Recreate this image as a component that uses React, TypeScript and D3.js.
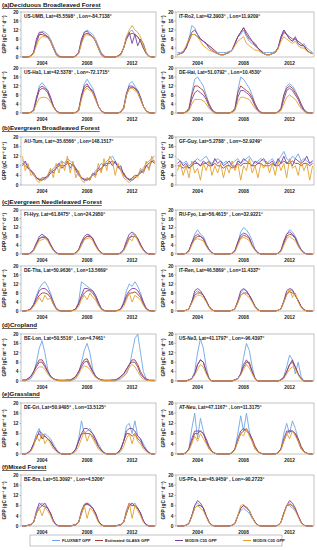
import React from 'react';
import * as d3 from 'd3';

const years = ['2004', '2008', '2012'];
const yTicks = [0, 4, 8, 12, 16, 20];
const seriesNames = ['FLUXNET GPP', 'Estimated GLASS GPP', 'MODIS C55 GPP', 'MODIS C05 GPP'];
const sectionTitles = [
  '(a)Deciduous Broadleaved Forest',
  '(b)Evergreen Broadleaved Forest',
  '(c)Evergreen Needleleaved Forest',
  '(d)Cropland',
  '(e)Grassland',
  '(f)Mixed Forest',
];
// left / right panel of each row
const siteIds = ['US-UMB', 'IT-Ro2', 'US-Ha1', 'DE-Hai', 'AU-Tum', 'GF-Guy', 'FI-Hyy', 'RU-Fyo',
  'DE-Tha', 'IT-Ren', 'BE-Lon', 'US-Ne3', 'DE-Gri', 'AT-Neu', 'BE-Bra', 'US-PFa'];
const siteLat = ['45.5598', '42.3903', '42.5378', '51.0792', '-35.6566', '5.2788', '61.8475', '56.4615',
  '50.9636', '46.5869', '50.5516', '41.1797', '50.9495', '47.1167', '51.3092', '45.9459'];
const siteLon = ['-84.7138', '11.9209', '-72.1715', '10.4530', '148.1517', '-52.9249', '24.2950', '32.9221',
  '13.5669', '11.4337', '4.7461', '-96.4397', '13.5125', '11.3175', '4.5206', '-90.2723'];

// GPP (gC m-2 d-1): FLUXNET, GLASS, MODIS C55, MODIS C05 — 16 samples a year for 2004, 2008, 2012
const usUmb = [
  [0,0,0,0.5,2,6,10,11.5,11,10,8,5,2,0.5,0,0, 0,0,0,0.5,1.5,6,11,12,11,10,8,5,2,0.5,0,0, 0,0,0.5,1.5,4,8,11,12,10,9,7,4,1.5,0.5,0,0],
  [0,0,0,0.5,2,7,10,10,9.5,9,7,4,1.5,0.3,0,0, 0,0,0,0.5,2,7,10,10.5,10,9,7,4,1.5,0.3,0,0, 0,0,0.5,1.5,4,8,10,10.5,10,9,7,4,1.5,0.3,0,0],
  [0,0,0,0.3,2,8,11,11,10,9,7,4,1,0,0,0, 0,0,0,0.3,2,8,11,11.5,10,9,7,4,1,0,0,0, 0,0,0.3,1,4,9,11,6,10,5,8,6,2,0.3,0,0],
  [0,0,0,0.3,1.5,5,8,9,9,8.5,7,4,1,0,0,0, 0,0,0,0.3,1.5,6,9,10,9.5,9,7,4,1,0,0,0, 0,0,0.3,1,4,9,12,14,12,11,9,5,2,0.3,0,0],
];
const itRo2 = [
  [2,2,2.5,4,8,14,13,10,8,7,6,5,4,3,2,2, 2,2,2.5,3,6,9,10,12,9,7,6,5,4,3,2,2, 2,2,2.5,4,9,12,10,8,7,8,6,5,6,4,3,2],
  [1,1.5,2,4,7,10,10,9,8,7,6,5,4,2.5,1.5,1, 1,1.5,2,3,6,9,11,13,10,8,7,6,4,2.5,1.5,1, 1,1.5,2,4,8,11,10,9,8,8,7,6,5,3,2,1.5],
  [1,1.5,2,4,8,11,12,10,8,7,6,4,3,2,1.5,1, 1,1.5,2,3,6,9,11,13,11,9,7,5,4,2.5,1.5,1, 1,1.5,2,4,9,12,10,8,7,9,6,5,5,3,2,1.5],
  [1,1.5,2.5,5,8,10,10,9,7,5,4,3,2.5,2,1.5,1, 1,1.5,2,3,5,7,8,9,6,5,4,3,3,2,1.5,1, 1,1.5,2,3.5,7,9,8,7,6,7,5,4,4,2.5,2,1.5],
];
const usHa1 = [
  [0,0,0,0.3,1,6,12,13.5,12,10,7,3,1,0.3,0,0, 0,0,0,0.3,1,7,13,15,13,11,7,3,1,0.3,0,0, 0,0,0,0.5,2,8,13,14,12,10,7,3,1,0.3,0,0],
  [0,0,0,0.3,1,6,10,11,10.5,9,6,3,1,0.2,0,0, 0,0,0,0.3,1,7,11,12,11,9,6,3,1,0.2,0,0, 0,0,0,0.5,2,8,11,11.5,11,9,6,3,1,0.2,0,0],
  [0,0,0,0.3,1.5,7,11,12,11,10,7,3,1,0,0,0, 0,0,0,0.3,1.5,8,12,13,11,10,7,3,1,0,0,0, 0,0,0,0.5,2.5,9,12,12,11,10,7,3,1,0,0,0],
  [0,0,0,0.3,1,4,6.5,7,7,6.5,5,2.5,0.8,0,0,0, 0,0,0,0.3,1,6,10,11,10,9,6,3,1,0,0,0, 0,0,0,0.5,2,8,11,11,10,9,6,3,1,0,0,0],
];
const deHai = [
  [0,0,0,0.5,2,9,15,16,14,12,8,4,1.5,0.5,0,0, 0,0,0,0.5,2,10,16,15,13,11,8,4,1.5,0.5,0,0, 0,0,0,0.5,2,8,12,13,12,10,7,4,1.5,0.5,0,0],
  [0,0,0,0.5,2,8,12,12,11,10,7,4,1.5,0.3,0,0, 0,0,0,0.5,2,9,12,11,10,9,7,4,1.5,0.3,0,0, 0,0,0,0.5,2,8,11,12,11,9,7,4,1.5,0.3,0,0],
  [0,0,0,0.3,1.5,6,9,10,9,8,6,3,1,0,0,0, 0,0,0,0.3,1.5,7,10,10,9,8,6,3,1,0,0,0, 0,0,0,0.3,1.5,6,10,11,10,8,6,3,1,0,0,0],
  [0,0,0,0.3,1,4,6,6,6,5.5,4,2,0.8,0,0,0, 0,0,0,0.3,1,5,7,7,6.5,6,4,2,0.8,0,0,0, 0,0,0,0.3,1,4,7,8,7,6,4,2,0.8,0,0,0],
];
const auTum = [
  [10,9,8,6,5,3,2,2,2.5,3,5,7,8,9,10,9, 11,10,9,7,5,3,2,2,3,4,6,7,9,8,10,11, 12,10,8,7,5,3,2,2,3,4,5,7,9,10,11,12],
  [9,8,7,6,4,3,2.5,2,3,3.5,5,6,7,8,8,8, 9,9,8,7,5,3,2.5,2,3,4,5,6,7,8,9,9, 10,9,8,6,5,3,2.5,2,3,4,5,6,8,9,10,10],
  [8,10,7,6,5,3,2,3,3,4,6,5,7,9,7,8, 10,7,9,6,4,3,2,3,2,5,4,7,6,9,8,10, 8,10,7,8,4,3,2,3,4,4,6,5,8,7,10,9],
  [12,6,9,4,5,2,1,3,2,4,7,3,9,5,10,6, 12,5,10,3,6,2,1,3,2,5,3,9,5,11,6,12, 10,4,9,6,3,2,1,2,4,3,7,5,10,6,12,9],
];
const gfGuy = [
  [11,10,9,10,8,9,10,11,10,11,12,10,9,10,11,10, 9,10,8,9,10,11,9,10,11,12,10,9,10,11,10,9, 10,11,9,10,12,14,11,10,12,11,13,10,11,10,9,10],
  [8,8,7,8,7,8,9,9,8,9,9,8,8,9,8,8, 7,8,8,7,8,9,8,9,9,9,8,8,9,9,8,8, 8,9,8,8,9,10,9,9,10,9,9,8,9,9,8,9],
  [9,10,8,9,7,8,10,9,8,10,9,10,8,11,9,10, 8,9,10,8,7,10,9,11,10,9,8,10,9,10,11,9, 9,10,8,11,9,12,9,10,8,11,10,9,10,12,9,10],
  [6,9,4,8,3,10,5,7,2,9,6,10,4,8,5,9, 3,8,5,10,6,9,2,8,6,11,5,8,3,9,7,10, 5,9,4,10,6,9,3,11,7,8,4,10,6,9,2,8],
];
const fiHyy = [
  [0,0,0,0.3,1.5,4,7,8,8,7,4,2,0.5,0,0,0, 0,0,0,0.3,1.5,4,7,8,8.5,7,4,2,0.5,0,0,0, 0,0,0,0.3,1.5,4,7,9,9,7,4,2,0.5,0,0,0],
  [0,0,0,0.5,2,5,7,7.5,7.5,6.5,4,2,0.5,0,0,0, 0,0,0,0.5,2,5,7,8,8,7,4,2,0.5,0,0,0, 0,0,0,0.5,2,5,7.5,8,8,7,4,2,0.5,0,0,0],
  [0,0,0,0.5,2,5,8,9,8,7,4.5,2,0.5,0,0,0, 0,0,0,0.5,2,5.5,8,9,8.5,7,4.5,2,0.5,0,0,0, 0,0,0,0.5,2,6,9,10,9,7,4.5,2,0.5,0,0,0],
  [0,0,0,0.3,1.5,4,6,6.5,7,6,3.5,1.5,0.3,0,0,0, 0,0,0,0.3,1.5,4,6.5,7,7.5,6,3.5,1.5,0.3,0,0,0, 0,0,0,0.3,1.5,4,7,6,9,6,3.5,1.5,0.3,0,0,0],
];
const ruFyo = [
  [0,0,0,0.3,1.5,5,9,11,9,8,5,2,0.5,0,0,0, 0,0,0,0.3,1.5,5,10,12,11,9,6,2,0.5,0,0,0, 0,0,0,0.3,1.5,5,9,11,10,8,5,2,0.5,0,0,0],
  [0,0,0,0.3,1.5,5,7,8,8,7,4,2,0.5,0,0,0, 0,0,0,0.3,1.5,5,7.5,8.5,8,7,4,2,0.5,0,0,0, 0,0,0,0.3,1.5,5,8,9,8.5,7,4,2,0.5,0,0,0],
  [0,0,0,0.3,1.5,5,8,9,8,7,4,2,0.5,0,0,0, 0,0,0,0.3,1.5,5.5,8.5,9.5,9,7.5,4,2,0.5,0,0,0, 0,0,0,0.3,1.5,6,9,10,9,7.5,4,2,0.5,0,0,0],
  [0,0,0,0.3,1,4,6.5,7,6.5,6,3.5,1.5,0.3,0,0,0, 0,0,0,0.3,1,4,7,7.5,7,6,3.5,1.5,0.3,0,0,0, 0,0,0,0.3,1,4,7,8,7,6,3.5,1.5,0.3,0,0,0],
];
const deTha = [
  [0,0,0.3,1,3,7,10,12,13,11,8,4,1.5,0.3,0,0, 0,0,0.3,1,4,13,12,11,10,9,7,4,1.5,0.3,0,0, 0,0,0.3,1,4,9,12,11,13,11,8,4,1.5,0.3,0,0],
  [0,0,0.3,1,2.5,5,7,8,8,7.5,6,3,1,0.2,0,0, 0,0,0.3,1,3,6,8,9,9,8,6,3,1,0.2,0,0, 0,0,0.3,1,3,6,8,8,8.5,7.5,6,3,1,0.2,0,0],
  [0,0,0.3,1,3,6,9,10,10,9,7,4,1,0.2,0,0, 0,0,0.3,1,3.5,7,10,10,9.5,9,7,4,1,0.2,0,0, 0,0,0.3,1,3.5,7,9,10,10,9,7,4,1,0.2,0,0],
  [0,0,0.2,0.5,2,4,6,4,7,5,6,3,0.8,0,0,0, 0,0,0.2,0.5,2,5,7,5,8,6,5,2.5,0.8,0,0,0, 0,0,0.2,0.5,2,5,8,4,7,6,5,2.5,0.8,0,0,0],
];
const itRen = [
  [0,0,0,0.3,1,4,8,9,8,7,5,2,0.5,0,0,0, 0,0,0,0.3,1,4,8,9.5,9,7,5,2,0.5,0,0,0, 0,0,0,0.3,1,4,8,9,9,7,5,2,0.5,0,0,0],
  [0,0,0,0.3,1,4,7,8,8,7,4.5,2,0.5,0,0,0, 0,0,0,0.3,1,4,7,8,8,7,4.5,2,0.5,0,0,0, 0,0,0,0.3,1,4,7.5,8.5,8,7,4.5,2,0.5,0,0,0],
  [0,0,0,0.3,1,4,9,10,9,7,4.5,2,0.5,0,0,0, 0,0,0,0.3,1,4.5,9,10,9,7,4.5,2,0.5,0,0,0, 0,0,0,0.3,1,4.5,9,10,9.5,7,4.5,2,0.5,0,0,0],
  [0,0,0,0.3,1,3.5,6,7,7,6,4,1.5,0.3,0,0,0, 0,0,0,0.3,1,3.5,7,8,7,6,4,1.5,0.3,0,0,0, 0,0,0,0.3,1,4,7,10,6,8,4,1.5,0.3,0,0,0],
];
const beLon = [
  [0,0,0.5,1,3,8,14,17,12,5,2,1,0.5,0,0,0, 0,0,0.5,1,3,8,13,16,12,5,2,1,0.5,0,0,0, 0,0,0.5,1,2,3,6,12,18,20,12,4,1,0.3,0,0],
  [0.5,0.5,1,2,4,7,9,9,7,4,2,1,0.5,0.3,0.3,0.3, 0.5,0.5,1,2,4,7,9,9.5,7,4,2,1,0.5,0.3,0.3,0.3, 0.5,0.5,1,2,3,5,7,9,9,7,4,2,1,0.3,0.3,0.3],
  [0.3,0.3,1,2,4,6,8,8,6,4,2,1,0.5,0.3,0.3,0.3, 0.3,0.3,1,2,4,6,8,8.5,6,4,2,1,0.5,0.3,0.3,0.3, 0.3,0.3,1,2,3,5,7,8,8,6,3,1.5,0.5,0.3,0.3,0.3],
  [0.3,0.3,0.5,1.5,3,5,6,6,5,3,1.5,0.8,0.3,0.2,0.2,0.2, 0.3,0.3,0.5,1.5,3,5,6.5,6,5,3,1.5,0.8,0.3,0.2,0.2,0.2, 0.3,0.3,0.5,1.5,2.5,4,6,7,6,4,2,0.8,0.3,0.2,0.2,0.2],
];
const usNe3 = [
  [0,0,0,0,0.5,1,4,12,18,14,6,1,0,0,0,0, 0,0,0,0,0.5,1,3,10,16,13,6,1,0,0,0,0, 0,0,0,0,0.5,2,6,11,9,3,8,2,0,0,0,0],
  [0,0,0,0,0.5,1,3,7,9,8,4,1,0,0,0,0, 0,0,0,0,0.5,1,3,6,8,8,4,1,0,0,0,0, 0,0,0,0,0.5,1.5,4,7,8,6,3,1,0,0,0,0],
  [0,0,0,0,0.5,1,3,7,9,8,4,1,0,0,0,0, 0,0,0,0,0.5,1,3,7,9,7,4,1,0,0,0,0, 0,0,0,0,0.5,1.5,4,7,9,6,3,1,0,0,0,0],
  [0,0,0,0,0.3,1,2.5,5,7,6,3,0.8,0,0,0,0, 0,0,0,0,0.3,1,2.5,5,7,5.5,3,0.8,0,0,0,0, 0,0,0,0,0.3,1,3,5,6,5,2.5,0.8,0,0,0,0],
];
const deGri = [
  [0,0,0.5,1.5,4,8,10,6,8,7,6,4,2,0.5,0,0, 0,0,0.5,2,6,13,8,9,10,8,6,4,2,0.5,0,0, 0,0,0.5,2,5,11,12,8,13,7,6,4,2,0.5,0,0],
  [0,0,0.5,1.5,4,7,8,6,7,6,5,3,1.5,0.5,0,0, 0,0,0.5,2,5,8,8,8,8,7,5,3,1.5,0.5,0,0, 0,0,0.5,2,5,8,8,7,8,6,5,3,1.5,0.5,0,0],
  [0,0,0.5,1.5,4,6,9,8,7,6,5,3,1.5,0.5,0,0, 0,0,0.5,2,5,8,10,10,9,8,6,3,1.5,0.5,0,0, 0,0,0.5,2,5,9,10,10,9,7,6,3,1.5,0.5,0,0],
  [0,0,0.3,1,3,7,5,8,4,6,4,2,1,0.3,0,0, 0,0,0.3,1,3,6,9,5,8,6,4,2,1,0.3,0,0, 0,0,0.3,1,3,6,8,4,8,5,4,2,1,0.3,0,0],
];
const atNeu = [
  [0,0,0,0.5,2,10,16,6,14,9,5,3,1,0.3,0,0, 0,0,0,0.5,2,8,15,9,16,9,5,3,1,0.3,0,0, 0,0,0,0.5,2,8,12,8,13,10,6,3,1,0.3,0,0],
  [0,0,0,0.5,2,5,8,8,9,8,6,3,1,0.3,0,0, 0,0,0,0.5,2,5,8,9,10,8,6,3,1,0.3,0,0, 0,0,0,0.5,2,5,8,9,9,8,6,3,1,0.3,0,0],
  [0,0,0,0.5,2,6,9,9,9,8,5,2,0.8,0.3,0,0, 0,0,0,0.5,2,6,9,10,9,8,5,2,0.8,0.3,0,0, 0,0,0,0.5,2,6,9,9,9,8,5,2,0.8,0.3,0,0],
  [0,0,0,0.5,1.5,4,7,5,8,6,4,2,0.8,0.3,0,0, 0,0,0,0.5,1.5,5,8,7,10,7,5,2,0.8,0.3,0,0, 0,0,0,0.5,1.5,5,8,6,9,7,5,2,0.8,0.3,0,0],
];
const beBra = [
  [0,0,0.3,0.5,1.5,5,8,9,8,7,5,2,0.5,0,0,0, 0,0,0.3,0.5,1.5,5,8,9,8.5,7,5,2,0.5,0,0,0, 0,0,0.3,0.5,1.5,5,8,8,9,7,5,2,0.5,0,0,0],
  [0,0,0.3,0.5,1.5,5,7,8,7.5,7,5,2,0.5,0,0,0, 0,0,0.3,0.5,1.5,5,8,8.5,8,7,5,2,0.5,0,0,0, 0,0,0.3,0.5,1.5,5,8,9,8,7,5,2,0.5,0,0,0],
  [0,0,0.3,0.5,1.5,6,9,8,9,7,5,2,0.5,0,0,0, 0,0,0.3,0.5,1.5,6,8.5,9,8,7,5,2,0.5,0,0,0, 0,0,0.3,0.5,1.5,6,9,8,8,7,5,2,0.5,0,0,0],
  [0,0,0.2,0.5,1.5,5,7,4,7,6,4,1.5,0.3,0,0,0, 0,0,0.2,0.5,1.5,5,8,3,7,6,4,1.5,0.3,0,0,0, 0,0,0.2,0.5,1.5,5,9,3,8,6,4,1.5,0.3,0,0,0],
];
const usPfa = [
  [0,0,0,0.3,1,4,8,9,8,7,4,1.5,0.3,0,0,0, 0,0,0,0.3,1,4,6,7,6,5,3,1.5,0.3,0,0,0, 0,0,0,0.3,1.5,5,8,8,7,6,4,1.5,0.3,0,0,0],
  [0,0,0,0.3,1,4,7,8,8,7,4,1.5,0.3,0,0,0, 0,0,0,0.3,1,4,7,8,7.5,6,3.5,1.5,0.3,0,0,0, 0,0,0,0.3,1.5,5,8,8.5,8,6.5,4,1.5,0.3,0,0,0],
  [0,0,0,0.3,1,4,8,10,9,7,4,1.5,0.3,0,0,0, 0,0,0,0.3,1,4,7,8,7,6,3.5,1.5,0.3,0,0,0, 0,0,0,0.3,1.5,5,8,10,9,7,4,1.5,0.3,0,0,0],
  [0,0,0,0.3,1,3.5,7,8,7,6,3.5,1.2,0.3,0,0,0, 0,0,0,0.3,1,4,8,8.5,7,6,3.5,1.2,0.3,0,0,0, 0,0,0,0.3,1.5,4.5,8,9,8,6,3.5,1.2,0.3,0,0,0],
];

const siteData = [usUmb, itRo2, usHa1, deHai, auTum, gfGuy, fiHyy, ruFyo,
  deTha, itRen, beLon, usNe3, deGri, atNeu, beBra, usPfa];

const colors = ['#6ea6e6', '#a2402e', '#7b3ea6', '#e3a22c'];
const font = "'Liberation Sans', Arial, sans-serif";

// plot rows: top edge, height; section header y (or null)
const rows = [
  { top: 12, h: 45, header: 7 },
  { top: 68, h: 45, header: null },
  { top: 137, h: 48, header: 130 },
  { top: 210, h: 44, header: 204 },
  { top: 266, h: 45, header: null },
  { top: 334, h: 47, header: 327 },
  { top: 403, h: 51, header: 396 },
  { top: 475, h: 51, header: 469 },
];
const cols = [{ x0: 21, x1: 156, title: 6 }, { x0: 176, x1: 314, title: 165 }];

function Panel({ idx }: { idx: number }) {
  const r = rows[Math.floor(idx / 2)];
  const c = cols[idx % 2];
  const x = d3.scaleLinear().domain([-0.5, 47.5]).range([c.x0, c.x1]);
  const y = d3.scaleLinear().domain([0, 20]).range([r.top + r.h, r.top]);
  const line = d3.line<number>().x((_, i) => x(i)).y(d => y(d));
  const data = siteData[idx];
  const mid = r.top + r.h / 2;
  return (
    <g>
      <rect x={c.x0} y={r.top} width={c.x1 - c.x0} height={r.h} fill="#fff" stroke="#9a9a9a" strokeWidth={0.6} />
      {data.map((s, k) => (
        <path key={k} d={line(s) || ''} fill="none" stroke={colors[k]} strokeWidth={0.9} strokeLinejoin="round" />
      ))}
      {yTicks.map(t => (
        <g key={t}>
          <line x1={c.x0 - 1.5} x2={c.x0} y1={y(t)} y2={y(t)} stroke="#777" strokeWidth={0.5} />
          <text x={c.x0 - 2.5} y={y(t) + 1.7} fontSize={4.8} fontWeight="bold" textAnchor="end" fill="#222">{t}</text>
        </g>
      ))}
      {years.map((yr, k) => (
        <text key={yr} x={x(k * 16 + 7)} y={r.top + r.h + 7.5} fontSize={4.8} fontWeight="bold" textAnchor="middle" fill="#222">{yr}</text>
      ))}
      <text x={c.x0 + 3} y={r.top + 6} fontSize={4.8} fontWeight="bold" fill="#222">
        {`${siteIds[idx]},  Lat=${siteLat[idx]}° , Lon=${siteLon[idx]}°`}
      </text>
      <text transform={`translate(${c.title},${mid}) rotate(-90)`} fontSize={4.8} fontWeight="bold" textAnchor="middle" fill="#222">
        GPP (gC m⁻² d⁻¹)
      </text>
    </g>
  );
}

export default function App() {
  const headerRows = rows.filter(r => r.header !== null);
  const legendX = [52, 95, 175, 243];
  return (
    <svg width={317} height={550} style={{ position: 'absolute', left: 0, top: 0, fontFamily: font }}>
      <rect width={317} height={550} fill="#fff" />
      {headerRows.map((r, k) => (
        <text key={k} x={2} y={r.header as number} fontSize={6.2} fontWeight="bold" textDecoration="underline" fill="#111">
          {sectionTitles[k]}
        </text>
      ))}
      {siteIds.map((_, i) => <Panel key={i} idx={i} />)}
      <rect x={30} y={535} width={252} height={11} fill="#fff" stroke="#999" strokeWidth={0.6} />
      {seriesNames.map((n, k) => (
        <g key={n}>
          <line x1={legendX[k]} x2={legendX[k] + 8} y1={540.5} y2={540.5} stroke={colors[k]} strokeWidth={1} />
          <text x={legendX[k] + 10} y={542} fontSize={4.1} fontWeight="bold" fill="#222">{n}</text>
        </g>
      ))}
    </svg>
  );
}
